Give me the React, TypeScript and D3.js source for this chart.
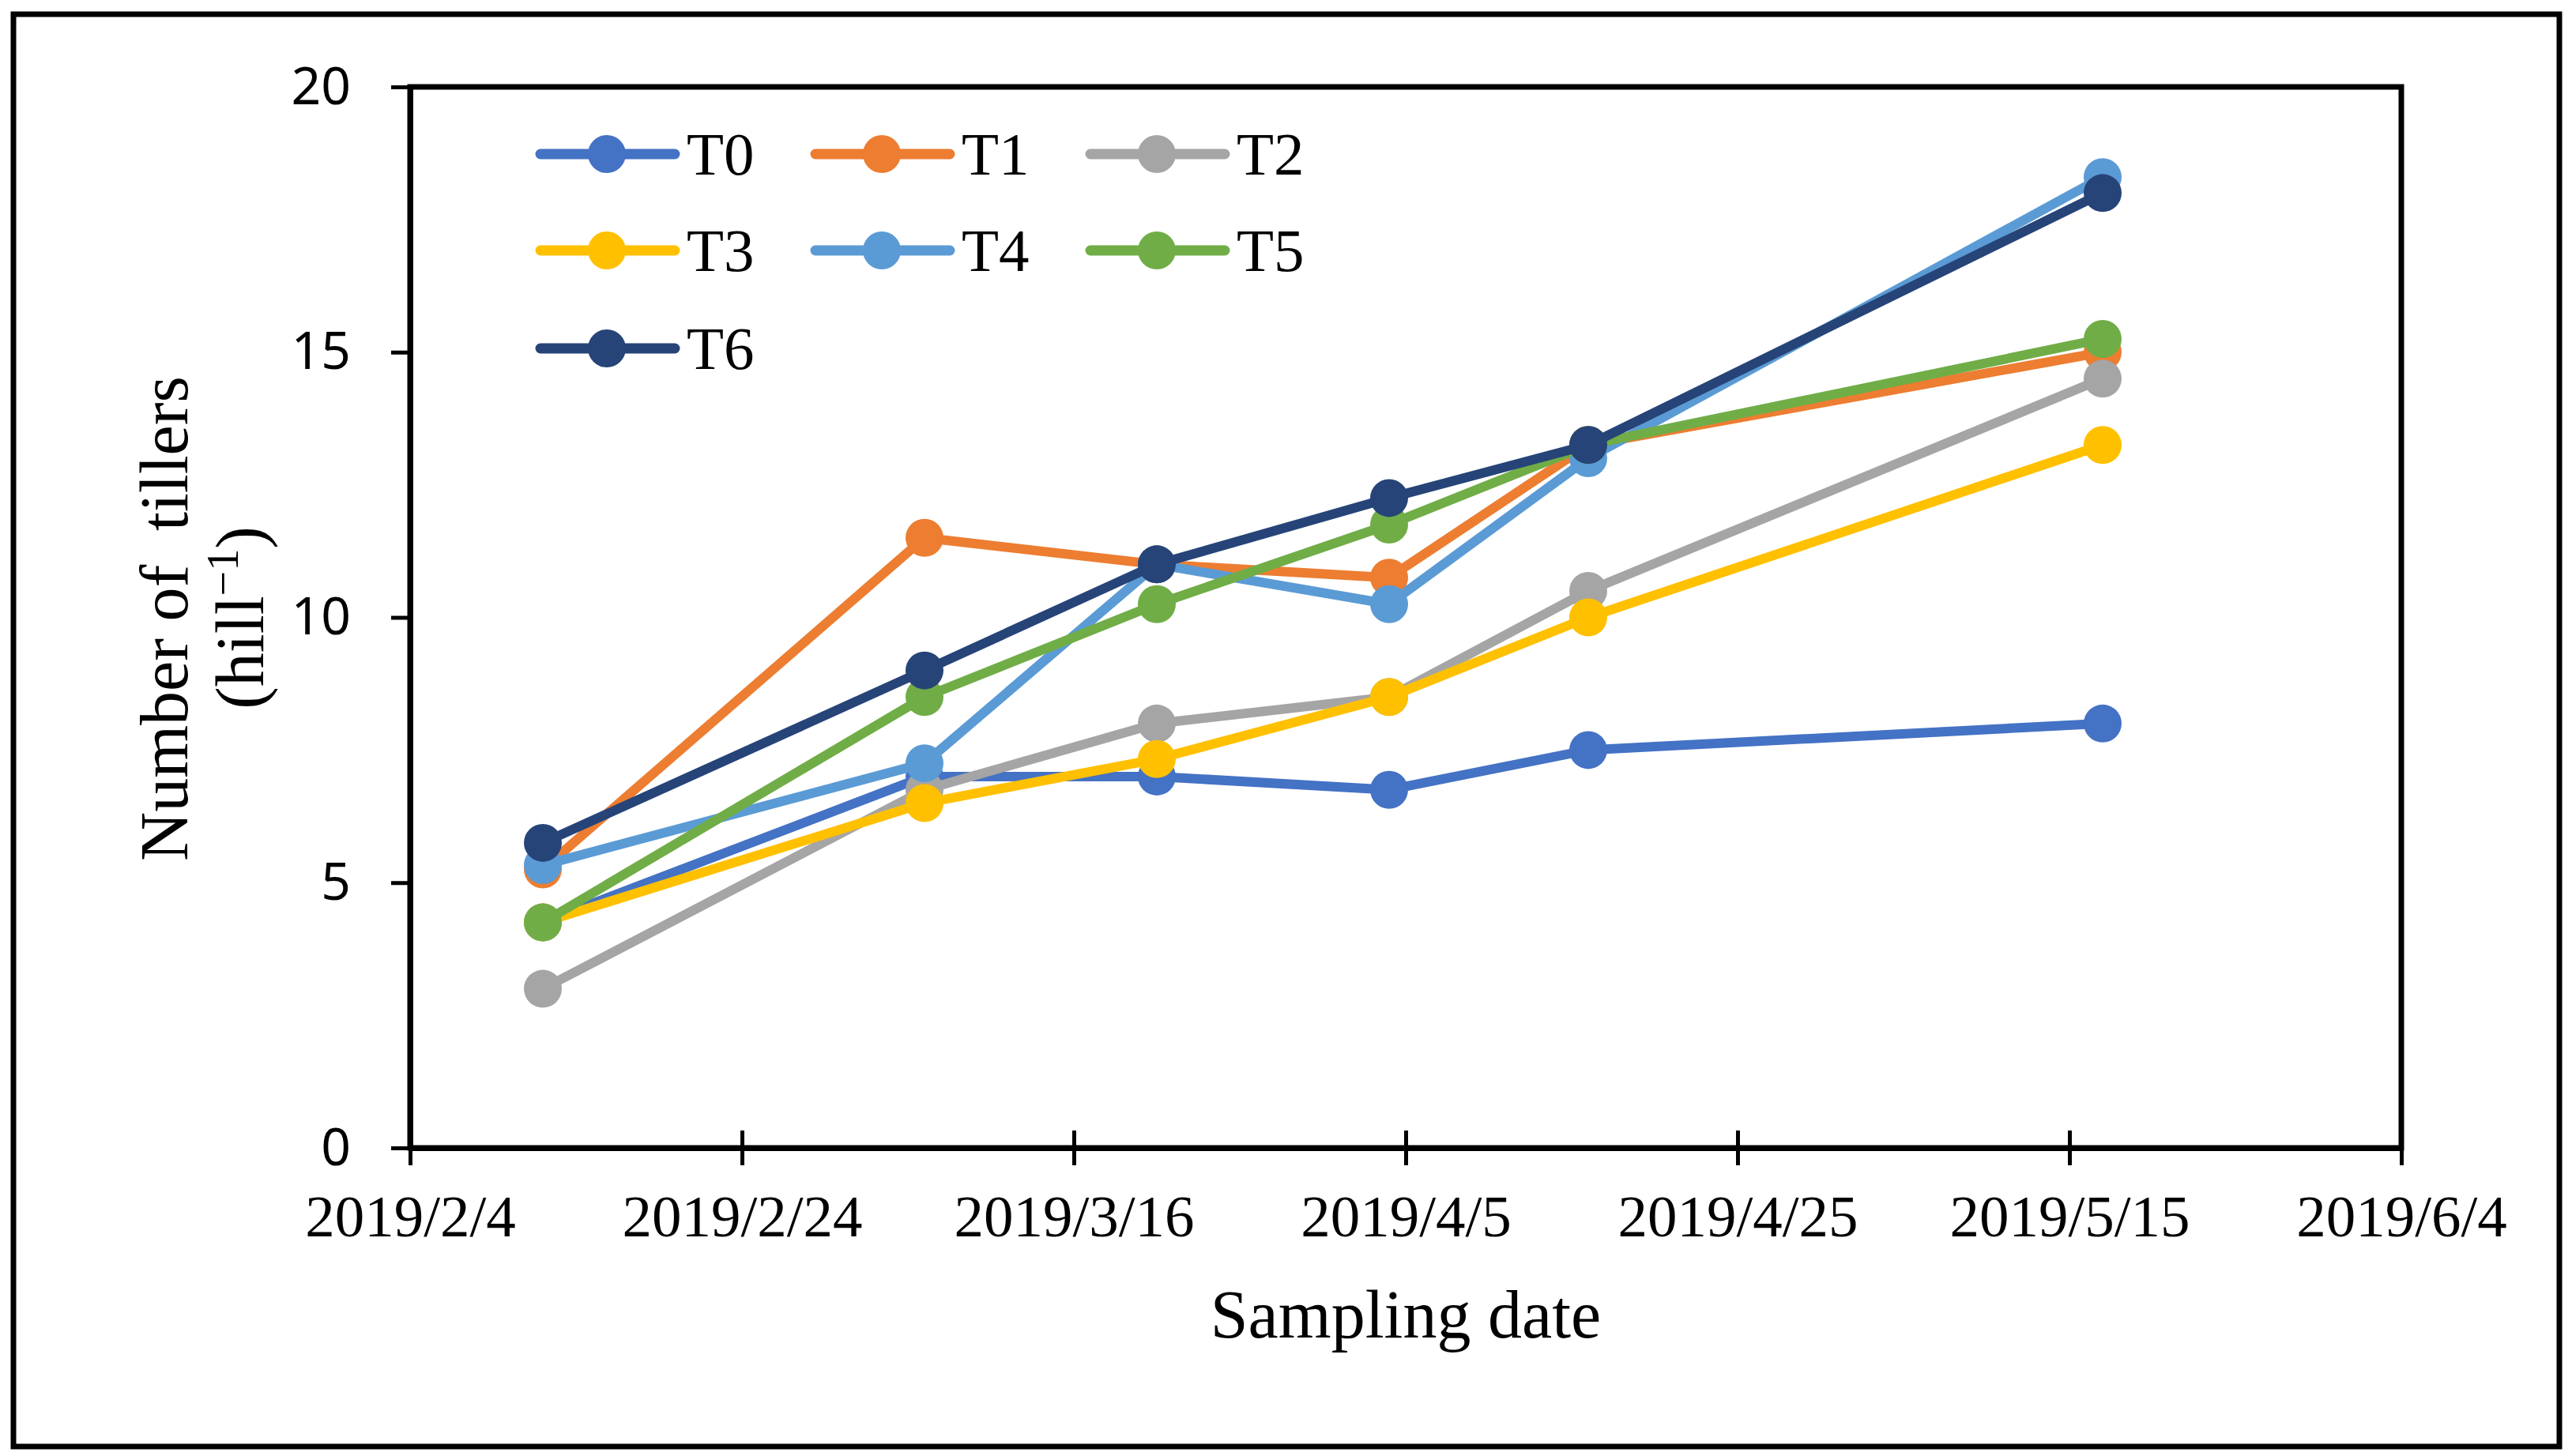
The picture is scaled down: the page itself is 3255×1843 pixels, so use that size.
import { useEffect, useRef } from "react";
import * as d3 from "d3";

// sampling dates and tiller counts per treatment
const sampleDates = ["2019/2/12", "2019/3/7", "2019/3/21", "2019/4/4", "2019/4/16", "2019/5/17"];
const seriesNames = ["T0", "T1", "T2", "T3", "T4", "T5", "T6"];
const t0 = [4.25, 7.0, 7.0, 6.75, 7.5, 8.0];
const t1 = [5.25, 11.5, 11.0, 10.75, 13.25, 15.0];
const t2 = [3.0, 6.75, 8.0, 8.5, 10.5, 14.5];
const t3 = [4.25, 6.5, 7.33, 8.5, 10.0, 13.25];
const t4 = [5.33, 7.25, 11.0, 10.25, 13.0, 18.3];
const t5 = [4.25, 8.5, 10.25, 11.75, 13.25, 15.25];
const t6 = [5.75, 9.0, 11.0, 12.25, 13.25, 18.0];
const seriesValues = [t0, t1, t2, t3, t4, t5, t6];
const colors = ["#4472C4", "#ED7D31", "#A5A5A5", "#FFC000", "#5B9BD5", "#70AD47", "#264478"];
const xTickLabels = ["2019/2/4", "2019/2/24", "2019/3/16", "2019/4/5", "2019/4/25", "2019/5/15", "2019/6/4"];
const yTicks = [0, 5, 10, 15, 20];

const W = 3255;
const H = 1843;

const App = () => {
  const ref = useRef<SVGSVGElement>(null);

  useEffect(() => {
    if (!ref.current) return;
    document.body.style.margin = "0";
    const parse = d3.timeParse("%Y/%m/%d");
    const serif = "'Liberation Serif', 'Times New Roman', serif";

    const svg = d3.select(ref.current);
    svg.selectAll("*").remove();

    const left = 519, right = 3039, top = 110, bottom = 1453;

    const x = d3.scaleTime()
      .domain([parse(xTickLabels[0])!, parse(xTickLabels[xTickLabels.length - 1])!])
      .range([left, right]);
    const y = d3.scaleLinear().domain([0, 20]).range([bottom, top]);

    // outer frame
    svg.append("rect")
      .attr("x", 17).attr("y", 18)
      .attr("width", 3222).attr("height", 1813)
      .attr("fill", "white").attr("stroke", "black").attr("stroke-width", 7);

    // plot area border
    svg.append("rect")
      .attr("x", left).attr("y", top)
      .attr("width", right - left).attr("height", bottom - top)
      .attr("fill", "none").attr("stroke", "black").attr("stroke-width", 7);

    // y axis
    const yAxis = svg.append("g")
      .attr("transform", `translate(${left},0)`)
      .call(d3.axisLeft(y).tickValues(yTicks).tickSize(24).tickSizeOuter(0).tickPadding(51));
    yAxis.select(".domain").attr("stroke-width", 7);
    yAxis.selectAll(".tick line").attr("stroke-width", 5);
    yAxis.selectAll(".tick text")
      .attr("font-family", "'Noto Sans', 'Open Sans', sans-serif")
      .attr("font-size", 66)
      .attr("fill", "black");

    // x axis with crossing ticks
    const xAxis = svg.append("g")
      .attr("transform", `translate(0,${bottom})`)
      .call(d3.axisBottom(x)
        .tickValues(xTickLabels.map(s => parse(s)!))
        .tickFormat((_, i) => xTickLabels[i])
        .tickSize(22).tickSizeOuter(0));
    xAxis.select(".domain").attr("stroke-width", 7);
    xAxis.selectAll(".tick line").attr("y1", -22).attr("stroke-width", 5);
    xAxis.selectAll(".tick text")
      .attr("y", 112).attr("dy", 0)
      .attr("font-family", serif)
      .attr("font-size", 75)
      .attr("fill", "black");

    // series
    const dates = sampleDates.map(s => parse(s)!);
    const line = d3.line<number>()
      .x((_, i) => x(dates[i]))
      .y(d => y(d));

    seriesValues.forEach((vals, si) => {
      const g = svg.append("g");
      g.append("path")
        .datum(vals)
        .attr("fill", "none")
        .attr("stroke", colors[si])
        .attr("stroke-width", 12)
        .attr("stroke-linejoin", "round")
        .attr("d", line);
      g.selectAll("circle")
        .data(vals)
        .join("circle")
        .attr("cx", (_, i) => x(dates[i]))
        .attr("cy", d => y(d))
        .attr("r", 24)
        .attr("fill", colors[si]);
    });

    // legend
    const colX = [684, 1032, 1380];
    const rowY = [195, 317, 441];
    seriesNames.forEach((name, i) => {
      const lx = colX[i % 3];
      const ly = rowY[Math.floor(i / 3)];
      const g = svg.append("g");
      g.append("line")
        .attr("x1", lx).attr("x2", lx + 170)
        .attr("y1", ly).attr("y2", ly)
        .attr("stroke", colors[i]).attr("stroke-width", 13)
        .attr("stroke-linecap", "round");
      g.append("circle")
        .attr("cx", lx + 84).attr("cy", ly).attr("r", 24)
        .attr("fill", colors[i]);
      g.append("text")
        .attr("x", lx + 185).attr("y", ly + 26)
        .attr("font-family", serif).attr("font-size", 77)
        .text(name);
    });

    // axis titles
    svg.append("text")
      .attr("x", (left + right) / 2).attr("y", 1693)
      .attr("text-anchor", "middle")
      .attr("font-family", serif).attr("font-size", 86)
      .text("Sampling date");

    svg.append("text")
      .attr("transform", "translate(237,783) rotate(-90)")
      .attr("text-anchor", "middle")
      .attr("font-family", serif).attr("font-size", 86)
      .style("white-space", "pre")
      .text("Number of  tillers");

    const t2l = svg.append("text")
      .attr("transform", "translate(333,782) rotate(-90)")
      .attr("text-anchor", "middle")
      .attr("font-family", serif).attr("font-size", 86);
    t2l.append("tspan").text("(hill");
    t2l.append("tspan").attr("font-size", 56).attr("dy", -32).text("\u22121");
    t2l.append("tspan").attr("dy", 32).text(")");
  }, []);

  return (
    <svg
      ref={ref}
      width={W}
      height={H}
      style={{ display: "block", position: "absolute", left: 0, top: 0, background: "white" }}
    />
  );
};

export default App;
